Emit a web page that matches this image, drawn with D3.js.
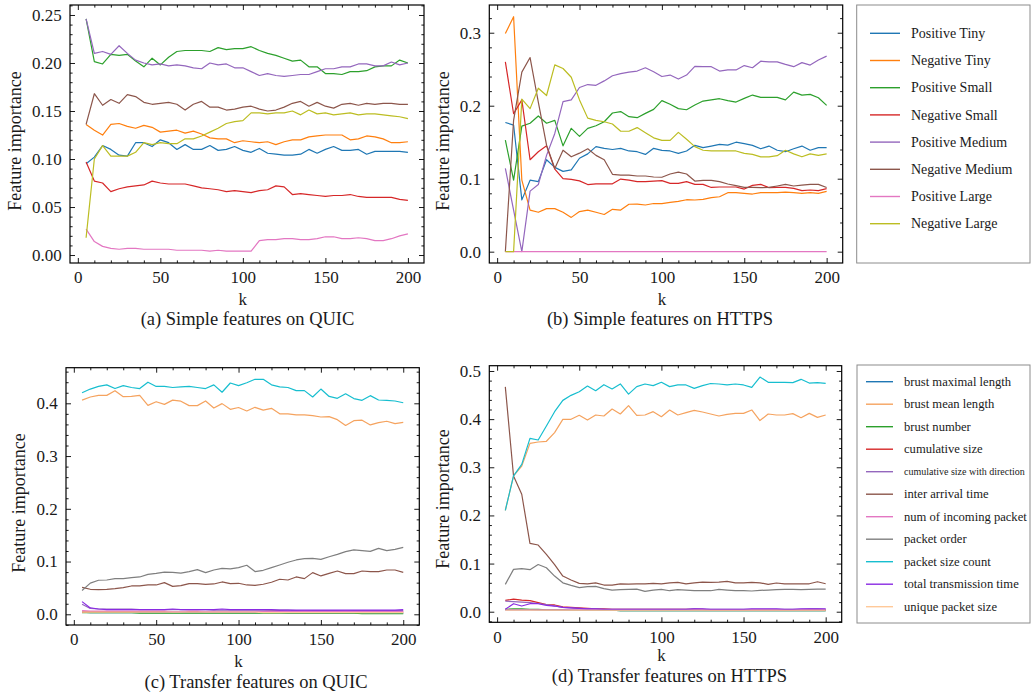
<!DOCTYPE html>
<html><head><meta charset="utf-8">
<script src="https://cdn.jsdelivr.net/npm/d3@7"></script>
<style>
body{margin:0;background:#fff}
svg{display:block}
text{font-family:"Liberation Serif","Times New Roman",serif;fill:#1a1a1a}
</style>
</head><body>
<svg id="chart" width="1031" height="695"></svg>
<script>
// ---------------- DATA ----------------
const kValues = [5,10,15,20,25,30,35,40,45,50,55,60,65,70,75,80,85,90,95,100,105,110,115,120,125,130,135,140,145,150,155,160,165,170,175,180,185,190,195,200];

const simpleNames = ["Positive Tiny","Negative Tiny","Positive Small","Negative Small","Positive Medium","Negative Medium","Positive Large","Negative Large"];
const simpleColors = ["#1f77b4","#ff7f0e","#2ca02c","#d62728","#9467bd","#8c564b","#e377c2","#bcbd22"];

const transferNames = ["brust maximal length","brust mean length","brust number","cumulative size","cumulative size with direction","inter arrival time","num of incoming packet","packet order","packet size count","total transmission time","unique packet size"];
const transferColors = ["#1f77b4","#f5a35f","#2ca02c","#d62728","#9467bd","#8c564b","#e377c2","#7f7f7f","#17becf","#8a2be2","#ffc999"];

const xTicks = [0,50,100,150,200];
const yTicksA = [0,0.05,0.10,0.15,0.20,0.25];
const yTicksB = [0,0.1,0.2,0.3];
const yTicksC = [0,0.1,0.2,0.3,0.4];
const yTicksD = [0,0.1,0.2,0.3,0.4,0.5];

// (a) Simple features on QUIC
const aPosTiny  = [0.095,0.102,0.114,0.110,0.104,0.103,0.117,0.117,0.113,0.120,0.117,0.110,0.115,0.110,0.110,0.114,0.109,0.110,0.113,0.109,0.107,0.111,0.106,0.105,0.104,0.104,0.105,0.110,0.106,0.110,0.113,0.109,0.109,0.110,0.105,0.108,0.108,0.108,0.108,0.107];
const aNegTiny  = [0.136,0.130,0.125,0.136,0.137,0.134,0.132,0.135,0.133,0.128,0.129,0.130,0.127,0.129,0.126,0.122,0.121,0.121,0.117,0.119,0.118,0.117,0.118,0.115,0.118,0.120,0.120,0.123,0.124,0.125,0.125,0.125,0.120,0.121,0.124,0.123,0.121,0.117,0.117,0.118];
const aPosSmall = [0.246,0.2015,0.199,0.209,0.208,0.209,0.202,0.196,0.205,0.198,0.206,0.212,0.213,0.213,0.213,0.212,0.216,0.214,0.215,0.215,0.217,0.213,0.210,0.208,0.205,0.202,0.203,0.196,0.196,0.189,0.189,0.188,0.191,0.191,0.192,0.196,0.197,0.197,0.203,0.200];
const aNegSmall = [0.097,0.077,0.075,0.066,0.069,0.071,0.072,0.073,0.077,0.075,0.074,0.074,0.074,0.072,0.070,0.069,0.068,0.066,0.067,0.066,0.065,0.067,0.068,0.072,0.071,0.063,0.064,0.063,0.062,0.061,0.062,0.062,0.063,0.061,0.060,0.060,0.060,0.060,0.058,0.057];
const aPosMed   = [0.246,0.210,0.212,0.209,0.218,0.210,0.203,0.200,0.198,0.199,0.197,0.198,0.197,0.195,0.194,0.200,0.198,0.199,0.195,0.195,0.191,0.187,0.189,0.187,0.186,0.187,0.188,0.188,0.191,0.194,0.194,0.196,0.196,0.199,0.199,0.197,0.197,0.201,0.198,0.200];
const aNegMed   = [0.136,0.168,0.156,0.162,0.158,0.167,0.165,0.159,0.157,0.158,0.159,0.157,0.151,0.157,0.160,0.154,0.154,0.151,0.152,0.154,0.155,0.152,0.150,0.151,0.154,0.158,0.160,0.155,0.159,0.155,0.153,0.157,0.158,0.156,0.158,0.157,0.158,0.158,0.157,0.157];
const aPosLarge = [0.027,0.014,0.009,0.007,0.006,0.007,0.007,0.006,0.006,0.006,0.006,0.005,0.005,0.005,0.005,0.004,0.005,0.004,0.004,0.004,0.004,0.015,0.016,0.016,0.017,0.017,0.016,0.016,0.017,0.019,0.019,0.017,0.017,0.018,0.017,0.015,0.015,0.017,0.020,0.022];
const aNegLarge = [0.018,0.100,0.114,0.103,0.103,0.103,0.107,0.117,0.115,0.117,0.116,0.116,0.121,0.121,0.124,0.128,0.132,0.137,0.139,0.140,0.148,0.148,0.147,0.148,0.148,0.150,0.146,0.151,0.147,0.148,0.146,0.147,0.148,0.146,0.147,0.147,0.146,0.145,0.144,0.142];

// (b) Simple features on HTTPS
const bPosTiny  = [0.177,0.1735,0.071,0.098,0.096,0.126,0.1155,0.110,0.112,0.128,0.134,0.144,0.1415,0.140,0.1415,0.138,0.137,0.1333,0.1416,0.1388,0.138,0.1347,0.138,0.1457,0.1425,0.1447,0.147,0.146,0.150,0.148,0.1457,0.141,0.1447,0.139,0.137,0.141,0.1447,0.139,0.1425,0.1425];
const bNegTiny  = [0.299,0.322,0.098,0.057,0.054,0.059,0.059,0.054,0.047,0.055,0.057,0.054,0.051,0.058,0.057,0.065,0.0653,0.064,0.066,0.0658,0.0676,0.069,0.0712,0.0708,0.0717,0.074,0.0753,0.0808,0.0808,0.080,0.079,0.0808,0.0808,0.0808,0.0817,0.0808,0.080,0.0808,0.080,0.0826];
const bPosSmall = [0.153,0.098,0.172,0.176,0.186,0.176,0.180,0.145,0.169,0.158,0.169,0.1725,0.178,0.190,0.192,0.185,0.1836,0.1895,0.195,0.207,0.202,0.196,0.1945,0.201,0.2064,0.208,0.2096,0.207,0.205,0.210,0.2146,0.2114,0.2114,0.2114,0.208,0.2187,0.2146,0.2155,0.211,0.2005];
const bNegSmall = [0.260,0.189,0.208,0.126,0.137,0.145,0.113,0.100,0.099,0.097,0.092,0.093,0.093,0.093,0.0995,0.098,0.0959,0.0959,0.0968,0.0973,0.0936,0.0936,0.0959,0.0922,0.0922,0.088,0.0886,0.0886,0.0886,0.0858,0.0908,0.0922,0.0877,0.088,0.088,0.0868,0.0836,0.0845,0.0836,0.0863];
const bPosMed   = [0.114,0.057,0.0,0.083,0.092,0.132,0.162,0.2055,0.208,0.225,0.229,0.228,0.234,0.241,0.244,0.246,0.2475,0.252,0.2466,0.240,0.242,0.2365,0.242,0.254,0.2535,0.2535,0.2475,0.249,0.249,0.255,0.252,0.261,0.260,0.260,0.2566,0.2535,0.259,0.2557,0.2626,0.268];
const bNegMed   = [0.0,0.180,0.246,0.266,0.205,0.146,0.114,0.139,0.130,0.135,0.141,0.132,0.126,0.106,0.105,0.105,0.1037,0.1037,0.1023,0.102,0.1064,0.109,0.1064,0.0968,0.0977,0.0977,0.0959,0.0927,0.0904,0.088,0.088,0.0877,0.088,0.090,0.0922,0.090,0.0913,0.0922,0.0922,0.088];
const bPosLarge = [0,0,0,0,0,0,0,0,0,0,0,0,0,0,0,0,0,0,0,0,0,0,0,0,0,0,0,0,0,0,0,0,0,0,0,0,0,0,0,0];
const bNegLarge = [0.0,0.0,0.209,0.196,0.224,0.214,0.256,0.251,0.239,0.208,0.183,0.180,0.178,0.175,0.165,0.165,0.170,0.163,0.156,0.1525,0.1525,0.1635,0.154,0.144,0.139,0.138,0.138,0.138,0.138,0.1347,0.1333,0.130,0.130,0.1315,0.139,0.134,0.130,0.134,0.132,0.134];

// (c) Transfer features on QUIC
const cBrustMax     = [0.004,0.003,0.003,0.003,0.003,0.003,0.003,0.003,0.003,0.003,0.003,0.003,0.003,0.003,0.003,0.003,0.003,0.003,0.003,0.003,0.003,0.003,0.003,0.003,0.003,0.002,0.002,0.002,0.002,0.002,0.002,0.002,0.002,0.002,0.002,0.002,0.002,0.002,0.002,0.002];
const cBrustMean    = [0.406,0.412,0.415,0.415,0.424,0.4126,0.413,0.415,0.396,0.403,0.398,0.406,0.404,0.3956,0.3956,0.4044,0.391,0.3994,0.3886,0.392,0.3855,0.3924,0.387,0.3905,0.380,0.380,0.378,0.378,0.3766,0.374,0.3747,0.369,0.358,0.367,0.368,0.359,0.3634,0.366,0.3615,0.364];
const cBrustNum     = [0.003,0.003,0.003,0.003,0.003,0.003,0.003,0.002,0.002,0.002,0.002,0.002,0.002,0.002,0.002,0.002,0.002,0.002,0.002,0.002,0.002,0.002,0.002,0.002,0.002,0.002,0.002,0.002,0.002,0.002,0.002,0.002,0.002,0.002,0.001,0.001,0.001,0.001,0.001,0.001];
const cCumSize      = [0.004,0.005,0.005,0.005,0.005,0.005,0.005,0.005,0.005,0.005,0.005,0.005,0.005,0.005,0.005,0.005,0.005,0.005,0.005,0.005,0.005,0.005,0.005,0.006,0.006,0.005,0.005,0.005,0.005,0.005,0.005,0.005,0.005,0.005,0.005,0.005,0.004,0.004,0.004,0.004];
const cCumDir       = [0.019,0.011,0.010,0.010,0.010,0.010,0.010,0.009,0.009,0.009,0.009,0.009,0.009,0.009,0.009,0.009,0.008,0.008,0.008,0.008,0.008,0.008,0.008,0.008,0.008,0.008,0.007,0.007,0.007,0.007,0.007,0.007,0.007,0.007,0.007,0.007,0.007,0.007,0.007,0.007];
const cInterArrival = [0.051,0.0474,0.0468,0.0474,0.0487,0.0506,0.0537,0.0537,0.0556,0.0556,0.060,0.053,0.0543,0.0581,0.0581,0.0569,0.0575,0.0613,0.0581,0.0588,0.0556,0.055,0.0569,0.0607,0.0664,0.065,0.0708,0.0676,0.079,0.0727,0.0777,0.0821,0.077,0.077,0.0821,0.081,0.081,0.084,0.084,0.0796];
const cNumIncoming  = [0.007,0.006,0.006,0.006,0.006,0.006,0.006,0.006,0.006,0.006,0.006,0.005,0.005,0.006,0.006,0.005,0.005,0.005,0.005,0.005,0.005,0.005,0.005,0.005,0.005,0.005,0.005,0.006,0.005,0.005,0.005,0.005,0.006,0.005,0.005,0.005,0.005,0.005,0.005,0.005];
const cPktOrder     = [0.045,0.059,0.0645,0.065,0.0676,0.0676,0.0695,0.0708,0.0758,0.0777,0.080,0.0796,0.078,0.081,0.0847,0.079,0.084,0.087,0.086,0.0885,0.093,0.081,0.0834,0.0885,0.0935,0.0986,0.103,0.1055,0.106,0.104,0.109,0.1137,0.1188,0.122,0.1207,0.1194,0.125,0.1207,0.123,0.127];
const cPktSizeCount = [0.420,0.427,0.432,0.435,0.428,0.4335,0.430,0.428,0.440,0.432,0.432,0.430,0.431,0.432,0.430,0.428,0.435,0.421,0.4385,0.4335,0.439,0.4455,0.4455,0.435,0.431,0.430,0.424,0.424,0.412,0.427,0.413,0.4095,0.418,0.409,0.4057,0.4145,0.4063,0.4057,0.4044,0.401];
const cTotalTrans   = [0.024,0.012,0.010,0.009,0.009,0.009,0.009,0.009,0.009,0.009,0.009,0.010,0.009,0.009,0.009,0.009,0.009,0.010,0.009,0.009,0.009,0.009,0.009,0.009,0.008,0.008,0.008,0.008,0.008,0.008,0.008,0.008,0.008,0.008,0.008,0.008,0.008,0.008,0.008,0.009];
const cUniquePkt    = [0.004,0.004,0.004,0.004,0.004,0.004,0.004,0.004,0.004,0.004,0.004,0.004,0.004,0.004,0.004,0.004,0.004,0.004,0.004,0.004,0.004,0.004,0.003,0.003,0.003,0.003,0.003,0.003,0.003,0.003,0.003,0.003,0.003,0.003,0.003,0.003,0.003,0.003,0.003,0.003];

// (d) Transfer features on HTTPS
const dBrustMax     = [0.004,0.004,0.004,0.004,0.003,0.003,0.003,0.003,0.003,0.003,0.003,0.003,0.003,0.003,0.002,0.002,0.002,0.002,0.002,0.002,0.002,0.002,0.002,0.002,0.002,0.002,0.002,0.002,0.002,0.002,0.002,0.002,0.002,0.002,0.002,0.002,0.002,0.002,0.002,0.002];
const dBrustMean    = [0.2105,0.282,0.3026,0.3497,0.3525,0.354,0.372,0.3996,0.3996,0.408,0.398,0.4086,0.4065,0.421,0.4107,0.428,0.408,0.4086,0.4155,0.405,0.419,0.4086,0.4134,0.4183,0.4148,0.4107,0.4065,0.41,0.412,0.412,0.419,0.397,0.4107,0.4086,0.4086,0.4114,0.403,0.412,0.4037,0.4086];
const dBrustNum     = [0.005,0.006,0.006,0.005,0.005,0.004,0.004,0.004,0.003,0.003,0.003,0.003,0.003,0.003,0.002,0.002,0.002,0.002,0.002,0.002,0.002,0.002,0.002,0.002,0.002,0.002,0.002,0.002,0.002,0.002,0.002,0.002,0.002,0.002,0.002,0.002,0.002,0.002,0.002,0.002];
const dCumSize      = [0.0235,0.026,0.024,0.023,0.019,0.015,0.014,0.010,0.009,0.008,0.007,0.006,0.006,0.005,0.005,0.005,0.005,0.005,0.005,0.005,0.005,0.005,0.005,0.005,0.005,0.004,0.004,0.004,0.004,0.004,0.004,0.004,0.004,0.004,0.004,0.004,0.004,0.004,0.004,0.004];
const dCumDir       = [0.022,0.021,0.020,0.019,0.017,0.015,0.012,0.009,0.008,0.007,0.006,0.006,0.005,0.005,0.005,0.005,0.005,0.005,0.005,0.005,0.005,0.005,0.005,0.006,0.005,0.005,0.005,0.005,0.005,0.005,0.005,0.005,0.005,0.005,0.005,0.005,0.005,0.006,0.006,0.005];
const dInterArrival = [0.467,0.282,0.244,0.142,0.1385,0.119,0.098,0.074,0.0658,0.0589,0.058,0.060,0.0554,0.0554,0.058,0.0575,0.058,0.058,0.0589,0.058,0.060,0.0609,0.058,0.060,0.0616,0.0609,0.0616,0.063,0.060,0.060,0.0609,0.060,0.0568,0.0596,0.058,0.058,0.058,0.058,0.0623,0.058];
const dNumIncoming  = [0.004,0.004,0.004,0.004,0.004,0.004,0.004,0.004,0.004,0.004,0.004,0.004,0.004,0.004,0.004,0.004,0.004,0.004,0.004,0.004,0.004,0.004,0.004,0.004,0.004,0.004,0.004,0.004,0.004,0.004,0.004,0.004,0.004,0.004,0.004,0.004,0.004,0.004,0.004,0.004];
const dPktOrder     = [0.0568,0.088,0.0893,0.0873,0.098,0.0914,0.074,0.060,0.0547,0.050,0.052,0.0526,0.048,0.045,0.0457,0.0464,0.047,0.0422,0.045,0.0464,0.0436,0.0457,0.045,0.0436,0.0436,0.0436,0.0464,0.045,0.0436,0.0436,0.043,0.0443,0.045,0.0457,0.0464,0.0464,0.0457,0.0464,0.047,0.047];
const dPktSizeCount = [0.2105,0.282,0.306,0.360,0.3566,0.3857,0.4155,0.439,0.4494,0.457,0.4688,0.459,0.4716,0.4626,0.473,0.452,0.4675,0.473,0.4695,0.4765,0.4675,0.471,0.471,0.464,0.4695,0.474,0.473,0.471,0.473,0.471,0.466,0.4875,0.4765,0.4765,0.4765,0.4758,0.4827,0.475,0.4758,0.4744];
const dTotalTrans   = [0.005,0.0166,0.0118,0.0166,0.0166,0.013,0.0118,0.009,0.008,0.007,0.006,0.006,0.005,0.005,0.005,0.005,0.005,0.005,0.005,0.005,0.005,0.005,0.005,0.006,0.006,0.005,0.005,0.005,0.005,0.005,0.006,0.006,0.006,0.006,0.005,0.005,0.006,0.006,0.006,0.006];
const dUniquePkt    = [0.003,0.003,0.003,0.003,0.003,0.003,0.003,0.003,0.003,0.003,0.003,0.003,0.003,0.003,0.003,0.003,0.003,0.003,0.003,0.003,0.003,0.003,0.003,0.003,0.003,0.003,0.003,0.003,0.003,0.003,0.003,0.003,0.003,0.003,0.003,0.003,0.003,0.003,0.003,0.003];

// ---------------- LAYOUT ----------------
const svg = d3.select("#chart");
const FONT_TICK = 17, FONT_LABEL = 18, FONT_CAP = 18.5;

const panels = [
  {series:[aPosTiny,aNegTiny,aPosSmall,aNegSmall,aPosMed,aNegMed,aPosLarge,aNegLarge], colors:simpleColors,
   f:{x0:70,x1:424,y0:5,y1:263}, yDom:[-0.0083,0.2604], yTicks:yTicksA, fmt:".2f", minor:0.01,
   cap:"(a) Simple features on QUIC", capX:247.5, capY:325, kY:305, ylX:21, ylY:141},
  {series:[bPosTiny,bNegTiny,bPosSmall,bNegSmall,bPosMed,bNegMed,bPosLarge,bNegLarge], colors:simpleColors,
   f:{x0:489.3,x1:842.7,y0:5,y1:263}, yDom:[-0.0155,0.338], yTicks:yTicksB, fmt:".1f", minor:0.02,
   cap:"(b) Simple features on HTTPS", capX:660, capY:325, kY:305, ylX:449, ylY:141},
  {series:[cBrustMax,cBrustMean,cBrustNum,cCumSize,cCumDir,cInterArrival,cNumIncoming,cPktOrder,cPktSizeCount,cTotalTrans,cUniquePkt], colors:transferColors,
   f:{x0:66,x1:419.3,y0:367.7,y1:625}, yDom:[-0.0203,0.4675], yTicks:yTicksC, fmt:".1f", minor:0.02,
   cap:"(c) Transfer features on QUIC", capX:256, capY:688, kY:667, ylX:25, ylY:503},
  {series:[dBrustMax,dBrustMean,dBrustNum,dCumSize,dCumDir,dInterArrival,dNumIncoming,dPktOrder,dPktSizeCount,dTotalTrans,dUniquePkt], colors:transferColors,
   f:{x0:489.3,x1:841.7,y0:365.7,y1:622.3}, yDom:[-0.022,0.511], yTicks:yTicksD, fmt:".1f", minor:0.02,
   cap:"(d) Transfer features on HTTPS", capX:669.5, capY:682, kY:661, ylX:449, ylY:499}
];

function minorTicks(dom, step, majorStep){
  const out=[];
  const i0=Math.ceil(dom[0]/step-1e-9), i1=Math.floor(dom[1]/step+1e-9);
  const ratio=Math.round(majorStep/step);
  for(let i=i0;i<=i1;i++){ if(i%ratio!==0) out.push(i*step); }
  return out;
}

panels.forEach((p,pi)=>{
  const f=p.f;
  const x=d3.scaleLinear().domain([-4.75,209.75]).range([f.x0,f.x1]);
  const y=d3.scaleLinear().domain(p.yDom).range([f.y1,f.y0]);
  const g=svg.append("g");
  const cid="clip"+pi;
  svg.append("defs").append("clipPath").attr("id",cid).append("rect")
    .attr("x",f.x0).attr("y",f.y0).attr("width",f.x1-f.x0).attr("height",f.y1-f.y0);

  const line=d3.line().x((d,i)=>x(kValues[i])).y(d=>y(d));
  const lg=g.append("g").attr("clip-path",`url(#${cid})`);
  p.series.forEach((s,si)=>{
    lg.append("path").attr("d",line(s)).attr("fill","none")
      .attr("stroke",p.colors[si]).attr("stroke-width",1.2).attr("stroke-linejoin","round");
  });

  const xMinor=minorTicks([-4.75,209.75],10,50);
  const yMinor=minorTicks(p.yDom,p.minor,p.yTicks[1]-p.yTicks[0]);
  const MJ=5, MN=2.6;
  const style=sel=>{sel.select(".domain").remove(); sel.selectAll("line").attr("stroke","#000").attr("stroke-width",0.9);};

  g.append("g").attr("transform",`translate(0,${f.y1})`)
    .call(d3.axisBottom(x).tickValues(xTicks).tickFormat(d3.format("d")).tickSizeInner(-MJ).tickSizeOuter(0).tickPadding(8.2))
    .call(style).call(s=>s.selectAll("text").attr("font-size",FONT_TICK).attr("font-family","Liberation Serif").attr("fill","#1a1a1a"));
  g.append("g").attr("transform",`translate(0,${f.y1})`)
    .call(d3.axisBottom(x).tickValues(xMinor).tickFormat("").tickSizeInner(-MN).tickSizeOuter(0)).call(style);
  g.append("g").attr("transform",`translate(0,${f.y0})`)
    .call(d3.axisTop(x).tickValues(xTicks).tickFormat("").tickSizeInner(-MJ).tickSizeOuter(0)).call(style);
  g.append("g").attr("transform",`translate(0,${f.y0})`)
    .call(d3.axisTop(x).tickValues(xMinor).tickFormat("").tickSizeInner(-MN).tickSizeOuter(0)).call(style);
  g.append("g").attr("transform",`translate(${f.x0},0)`)
    .call(d3.axisLeft(y).tickValues(p.yTicks).tickFormat(d3.format(p.fmt)).tickSizeInner(-MJ).tickSizeOuter(0).tickPadding(8.3))
    .call(style).call(s=>s.selectAll("text").attr("font-size",FONT_TICK).attr("font-family","Liberation Serif").attr("fill","#1a1a1a"));
  g.append("g").attr("transform",`translate(${f.x0},0)`)
    .call(d3.axisLeft(y).tickValues(yMinor).tickFormat("").tickSizeInner(-MN).tickSizeOuter(0)).call(style);
  g.append("g").attr("transform",`translate(${f.x1},0)`)
    .call(d3.axisRight(y).tickValues(p.yTicks).tickFormat("").tickSizeInner(-MJ).tickSizeOuter(0)).call(style);
  g.append("g").attr("transform",`translate(${f.x1},0)`)
    .call(d3.axisRight(y).tickValues(yMinor).tickFormat("").tickSizeInner(-MN).tickSizeOuter(0)).call(style);

  g.append("rect").attr("x",f.x0).attr("y",f.y0).attr("width",f.x1-f.x0).attr("height",f.y1-f.y0)
    .attr("fill","none").attr("stroke","#000").attr("stroke-width",1.2);

  g.append("text").attr("x",x(100)).attr("y",p.kY).attr("text-anchor","middle").attr("font-size",17).text("k");
  g.append("text").attr("transform",`translate(${p.ylX},${p.ylY}) rotate(-90)`).attr("text-anchor","middle")
    .attr("font-size",FONT_LABEL).text("Feature importance");
  g.append("text").attr("x",p.capX).attr("y",p.capY).attr("text-anchor","middle").attr("font-size",FONT_CAP).text(p.cap);
});

// ---------------- LEGENDS ----------------
function legend(box, names, colors, rowY0, rowStep, lx0, lx1, tx, fs, smallIdx, smallFs){
  const g=svg.append("g");
  g.append("rect").attr("x",box.x).attr("y",box.y).attr("width",box.w).attr("height",box.h)
    .attr("fill","#fff").attr("stroke","#8c8c8c").attr("stroke-width",1);
  names.forEach((n,i)=>{
    const yy=rowY0+i*rowStep;
    g.append("line").attr("x1",lx0).attr("x2",lx1).attr("y1",yy).attr("y2",yy)
      .attr("stroke",colors[i]).attr("stroke-width",1.4);
    g.append("text").attr("x",tx).attr("y",yy).attr("dy","0.33em")
      .attr("font-size", i===smallIdx?smallFs:fs).text(n);
  });
}
legend({x:856.7,y:5,w:173.3,h:258}, simpleNames, simpleColors, 33.3, 27.2, 870, 900, 911, 14, -1, 14);
legend({x:857,y:365,w:173,h:258}, transferNames, transferColors, 381.7, 22.5, 866, 893, 904, 12.6, 4, 10);
</script>
</body></html>
